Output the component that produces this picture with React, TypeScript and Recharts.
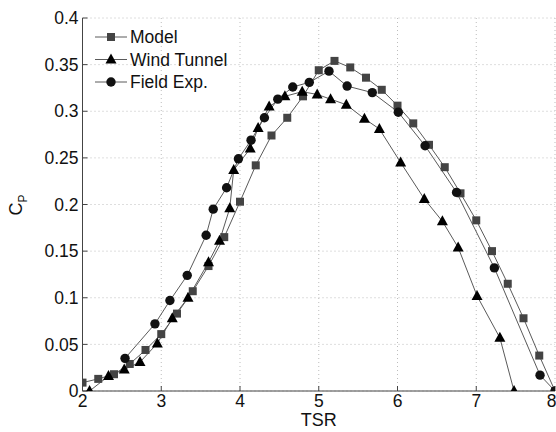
import { LineChart, Line, XAxis, YAxis, CartesianGrid } from 'recharts';

const xTicks = [2, 3, 4, 5, 6, 7, 8];
const yTicks = [0, 0.05, 0.1, 0.15, 0.2, 0.25, 0.3, 0.35, 0.4];

const modelX = [2.0, 2.2, 2.4, 2.6, 2.8, 3.0, 3.2, 3.4, 3.6, 3.8, 4.0, 4.2, 4.4, 4.6, 4.8, 5.0, 5.2, 5.4, 5.6, 5.8, 6.0, 6.2, 6.4, 6.6, 6.8, 7.0, 7.2, 7.4, 7.6, 7.8, 8.0];
const modelY = [0.009, 0.013, 0.018, 0.029, 0.044, 0.061, 0.083, 0.107, 0.134, 0.165, 0.203, 0.242, 0.274, 0.293, 0.316, 0.344, 0.354, 0.347, 0.336, 0.323, 0.306, 0.287, 0.264, 0.24, 0.212, 0.183, 0.15, 0.115, 0.078, 0.038, 0.0];

const tunnelX = [2.09, 2.33, 2.53, 2.73, 2.95, 3.14, 3.34, 3.6, 3.74, 3.87, 3.92, 4.13, 4.23, 4.37, 4.57, 4.79, 4.98, 5.15, 5.35, 5.58, 5.77, 6.04, 6.34, 6.57, 6.77, 7.01, 7.3, 7.48];
const tunnelY = [0.0, 0.016, 0.023, 0.031, 0.051, 0.078, 0.1, 0.138, 0.161, 0.196, 0.237, 0.26, 0.282, 0.305, 0.316, 0.321, 0.318, 0.313, 0.307, 0.292, 0.281, 0.245, 0.206, 0.182, 0.154, 0.102, 0.057, 0.0];

const fieldX = [2.54, 2.92, 3.11, 3.33, 3.57, 3.66, 3.83, 3.98, 4.14, 4.31, 4.48, 4.67, 4.88, 5.13, 5.36, 5.68, 6.01, 6.35, 6.75, 7.23, 7.81, 8.0];
const fieldY = [0.035, 0.072, 0.097, 0.124, 0.167, 0.195, 0.218, 0.249, 0.269, 0.293, 0.313, 0.326, 0.331, 0.343, 0.327, 0.32, 0.299, 0.263, 0.213, 0.132, 0.017, 0.0];

const zip = (xs: number[], ys: number[]) => xs.map((x, i) => ({ x, y: ys[i] }));
const modelData = zip(modelX, modelY);
const tunnelData = zip(tunnelX, tunnelY);
const fieldData = zip(fieldX, fieldY);

const FONT = '"Liberation Sans", Arial, sans-serif';
const LINE = '#5a5a5a';

function Square({ cx, cy }: any) {
  if (cx == null || cy == null) return null;
  return <rect x={cx - 4} y={cy - 4} width={8} height={8} fill="#444" />;
}

function Triangle({ cx, cy }: any) {
  if (cx == null || cy == null) return null;
  return <polygon points={`${cx},${cy - 6} ${cx - 5.5},${cy + 4} ${cx + 5.5},${cy + 4}`} fill="#000" />;
}

function Circle({ cx, cy }: any) {
  if (cx == null || cy == null) return null;
  return <circle cx={cx} cy={cy} r={4.7} fill="#111" />;
}

const legendItems = [
  { name: 'Model', marker: 'square' },
  { name: 'Wind Tunnel', marker: 'triangle' },
  { name: 'Field Exp.', marker: 'circle' },
];

function LegendBox() {
  return (
    <svg width={170} height={70} style={{ display: 'block' }}>
      {legendItems.map((item, i) => {
        const y = 11 + i * 22.5;
        return (
          <g key={item.name}>
            <line x1={2} x2={34} y1={y} y2={y} stroke={LINE} strokeWidth={1} />
            {item.marker === 'square' && <Square cx={18} cy={y} />}
            {item.marker === 'triangle' && <Triangle cx={18} cy={y} />}
            {item.marker === 'circle' && <Circle cx={18} cy={y} />}
            <text x={37} y={y} dy="0.35em" fontSize={17.5} fontFamily={FONT} fill="#111">
              {item.name}
            </text>
          </g>
        );
      })}
    </svg>
  );
}

function CpLabel() {
  return (
    <text transform="translate(22, 205) rotate(-90)" textAnchor="middle" fontSize={18} fontFamily={FONT} fill="#111">
      C<tspan fontSize={12} dy={5}>P</tspan>
    </text>
  );
}

const tickStyle = { fontSize: 17.5, fill: '#111', fontFamily: FONT };

export default function App() {
  return (
    <div style={{ position: 'absolute', left: 0, top: 0, width: 556, height: 432, background: '#fff' }}>
      <LineChart width={556} height={432} margin={{ top: 18, right: 1, bottom: 11, left: 22.5 }}>
        <CartesianGrid stroke="#bdbdbd" strokeDasharray="1 3" strokeWidth={1} />
        <XAxis
          dataKey="x"
          type="number"
          domain={[2, 8]}
          ticks={xTicks}
          allowDataOverflow
          height={30}
          tick={tickStyle}
          tickSize={-5}
          tickMargin={9}
          stroke="#444"
          label={{ value: 'TSR', position: 'insideBottom', offset: -5, style: { fontSize: 18, fill: '#111', fontFamily: FONT } }}
        />
        <XAxis xAxisId="top" orientation="top" dataKey="x" type="number" domain={[2, 8]} ticks={xTicks} height={0} tick={false} tickSize={-5} stroke="#444" />
        <YAxis
          type="number"
          domain={[0, 0.4]}
          ticks={yTicks}
          allowDataOverflow
          width={60}
          tick={tickStyle}
          tickSize={-5}
          tickMargin={9}
          stroke="#444"
          label={<CpLabel />}
        />
        <YAxis yAxisId="right" orientation="right" type="number" domain={[0, 0.4]} ticks={yTicks} width={0} tick={false} tickSize={-5} stroke="#444" />
        <Line data={modelData} dataKey="y" name="Model" stroke={LINE} strokeWidth={1} dot={<Square />} activeDot={false} isAnimationActive={false} />
        <Line data={tunnelData} dataKey="y" name="Wind Tunnel" stroke={LINE} strokeWidth={1} dot={<Triangle />} activeDot={false} isAnimationActive={false} />
        <Line data={fieldData} dataKey="y" name="Field Exp." stroke={LINE} strokeWidth={1} dot={<Circle />} activeDot={false} isAnimationActive={false} />
      </LineChart>
      <div style={{ position: 'absolute', left: 93, top: 26 }}>
        <LegendBox />
      </div>
    </div>
  );
}
